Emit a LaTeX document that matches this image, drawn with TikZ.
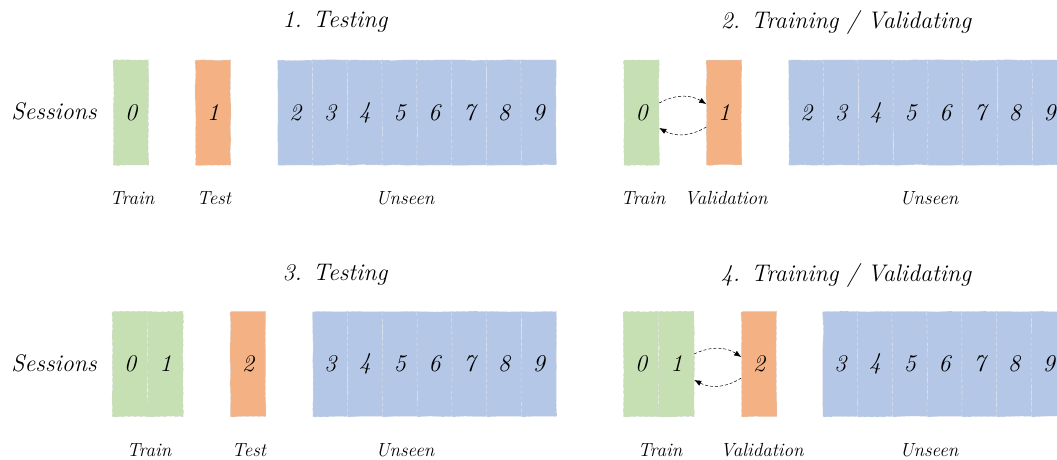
\documentclass[tikz,border=0pt]{standalone}
\usetikzlibrary{decorations.pathmorphing,arrows.meta}
\definecolor{trainc}{HTML}{C6E0B4}
\definecolor{testc}{HTML}{F4B183}
\definecolor{unseenc}{HTML}{B4C7E7}
\tikzset{
  cell/.style={draw=gray!35, dashed, line width=0.5pt,
    minimum width=35pt, minimum height=105pt, inner sep=0pt,
    decorate, decoration={random steps, segment length=12pt, amplitude=0.4pt},
    rounded corners=1pt,
    font=\fontsize{24}{28}\selectfont\itshape},
  traincell/.style={cell, fill=trainc},
  testcell/.style={cell, fill=testc},
  unseencell/.style={cell, fill=unseenc, draw=white!80!gray},
  lbl/.style={font=\fontsize{19}{22}\selectfont\itshape},
  ttl/.style={font=\fontsize{24}{28}\selectfont\itshape},
  swaparrow/.style={densely dashed, line width=0.5pt, -{Latex[length=7pt,width=5.5pt]}}
}
\begin{document}
\pgfmathsetseed{7}
\begin{tikzpicture}[x=1pt, y=-1pt]
\useasboundingbox (0,0) rectangle (1057,459);

% ---- 1. Testing ----
\node[ttl] (t1) at (335,22) {1. Testing};
\node[ttl] (s1) at (54,111) {Sessions};
\node[traincell] (p1c0) at (131,112.5) {0};
\node[testcell] (p1c1) at (213,112.5) {1};
\foreach \d [count=\i from 0] in {2,...,9}
  \node[unseencell] (p1c\d) at (295.4+34.75*\i,112.5) {\d};
\node[lbl] (l1a) at (132,198) {Train};
\node[lbl] (l1b) at (214,198) {Test};
\node[lbl] (l1c) at (405,198) {Unseen};

% ---- 2. Training / Validating ----
\node[ttl] (t2) at (846,22) {2. Training / Validating};
\node[traincell] (p2c0) at (641.5,112.5) {0};
\node[testcell] (p2c1) at (724,112.5) {1};
\foreach \d [count=\i from 0] in {2,...,9}
  \node[unseencell] (p2c\d) at (806.4+34.75*\i,112.5) {\d};
\node[lbl] (l2a) at (643,198) {Train};
\node[lbl] (l2b) at (726,198) {Validation};
\node[lbl] (l2c) at (929,198) {Unseen};
\draw[swaparrow] ([yshift=9.5pt]p2c0.east) to[bend left=30] ([yshift=8.5pt]p2c1.west);
\draw[swaparrow] ([yshift=-14.5pt]p2c1.west) to[bend left=30] ([yshift=-15.5pt]p2c0.east);

% ---- 3. Testing ----
\node[ttl] (t3) at (335,275) {3. Testing};
\node[ttl] (s3) at (54,363) {Sessions};
\node[traincell] (p3c0) at (130,364) {0};
\node[traincell] (p3c1) at (165.5,364) {1};
\node[testcell] (p3c2) at (248,364) {2};
\foreach \d [count=\i from 0] in {3,...,9}
  \node[unseencell] (p3c\d) at (330.4+34.75*\i,364) {\d};
\node[lbl] (l3a) at (149,450) {Train};
\node[lbl] (l3b) at (249,450) {Test};
\node[lbl] (l3c) at (405,450) {Unseen};

% ---- 4. Training / Validating ----
\node[ttl] (t4) at (846,275) {4. Training / Validating};
\node[traincell] (p4c0) at (641,364) {0};
\node[traincell] (p4c1) at (676.5,364) {1};
\node[testcell] (p4c2) at (759,364) {2};
\foreach \d [count=\i from 0] in {3,...,9}
  \node[unseencell] (p4c\d) at (840.4+34.75*\i,364) {\d};
\node[lbl] (l4a) at (660,450) {Train};
\node[lbl] (l4b) at (762,450) {Validation};
\node[lbl] (l4c) at (929,450) {Unseen};
\draw[swaparrow] ([yshift=10pt]p4c1.east) to[bend left=30] ([yshift=7pt]p4c2.west);
\draw[swaparrow] ([yshift=-14pt]p4c2.west) to[bend left=30] ([yshift=-16pt]p4c1.east);
\end{tikzpicture}
\end{document}
